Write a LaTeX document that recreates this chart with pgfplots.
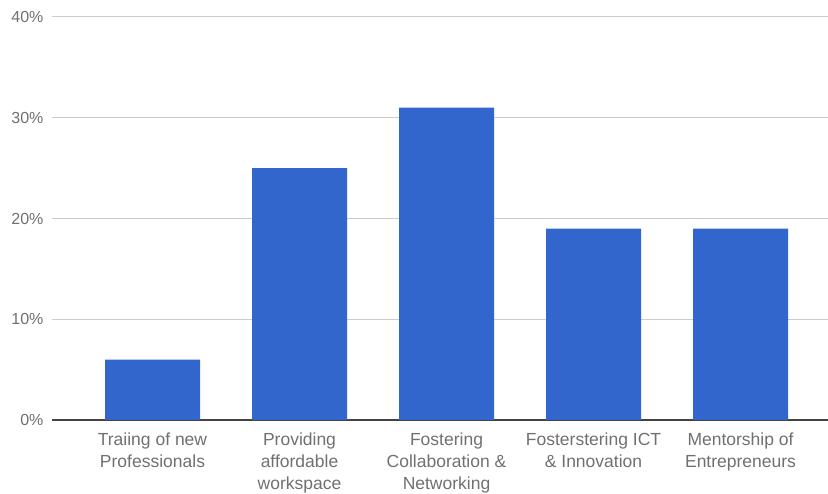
\documentclass[border=0pt]{standalone}
\usepackage{pgfplots}
\pgfplotsset{compat=1.18}
\usepackage{fontspec}
\setmainfont{Liberation Sans}
\definecolor{barblue}{HTML}{3366CC}
\definecolor{gridgray}{HTML}{CCCCCC}
\definecolor{labelgray}{HTML}{707070}
\definecolor{axisdark}{HTML}{444444}
\begin{document}
\begin{tikzpicture}
\path[use as bounding box] (0,0) rectangle (828pt,494pt);
\begin{axis}[
  at={(52pt,74pt)}, anchor=south west,
  scale only axis,
  width=776pt, height=403pt,
  xmin=-0.6837, xmax=4.595,
  ymin=0, ymax=40,
  ytick={0,10,20,30,40},
  yticklabel={\pgfmathprintnumber{\tick}\%},
  xtick={0,1,2,3,4},
  xticklabels={{Traiing of new\\Professionals},{Providing\\affordable\\workspace},{Fostering\\Collaboration \&\\Networking},{Fosterstering ICT\\\& Innovation},{Mentorship of\\Entrepreneurs}},
  xticklabel style={align=center, font=\fontsize{17.5}{22}\selectfont, text=labelgray, anchor=north, yshift=-9pt},
  yticklabel style={font=\fontsize{16}{18}\selectfont, text=labelgray, anchor=east, xshift=-5pt},
  /pgf/number format/assume math mode=true,
  major tick length=0pt,
  axis x line*=bottom,
  axis y line*=left,
  y axis line style={draw=none},
  x axis line style={axisdark, line width=1.8pt, -},
  ymajorgrids=true,
  major grid style={gridgray, line width=1pt},
  ybar, bar width=95pt,
  clip=false,
]
\addplot[fill=barblue, draw=none] coordinates {(0,6) (1,25) (2,31) (3,19) (4,19)};
\end{axis}
\end{tikzpicture}
\end{document}
